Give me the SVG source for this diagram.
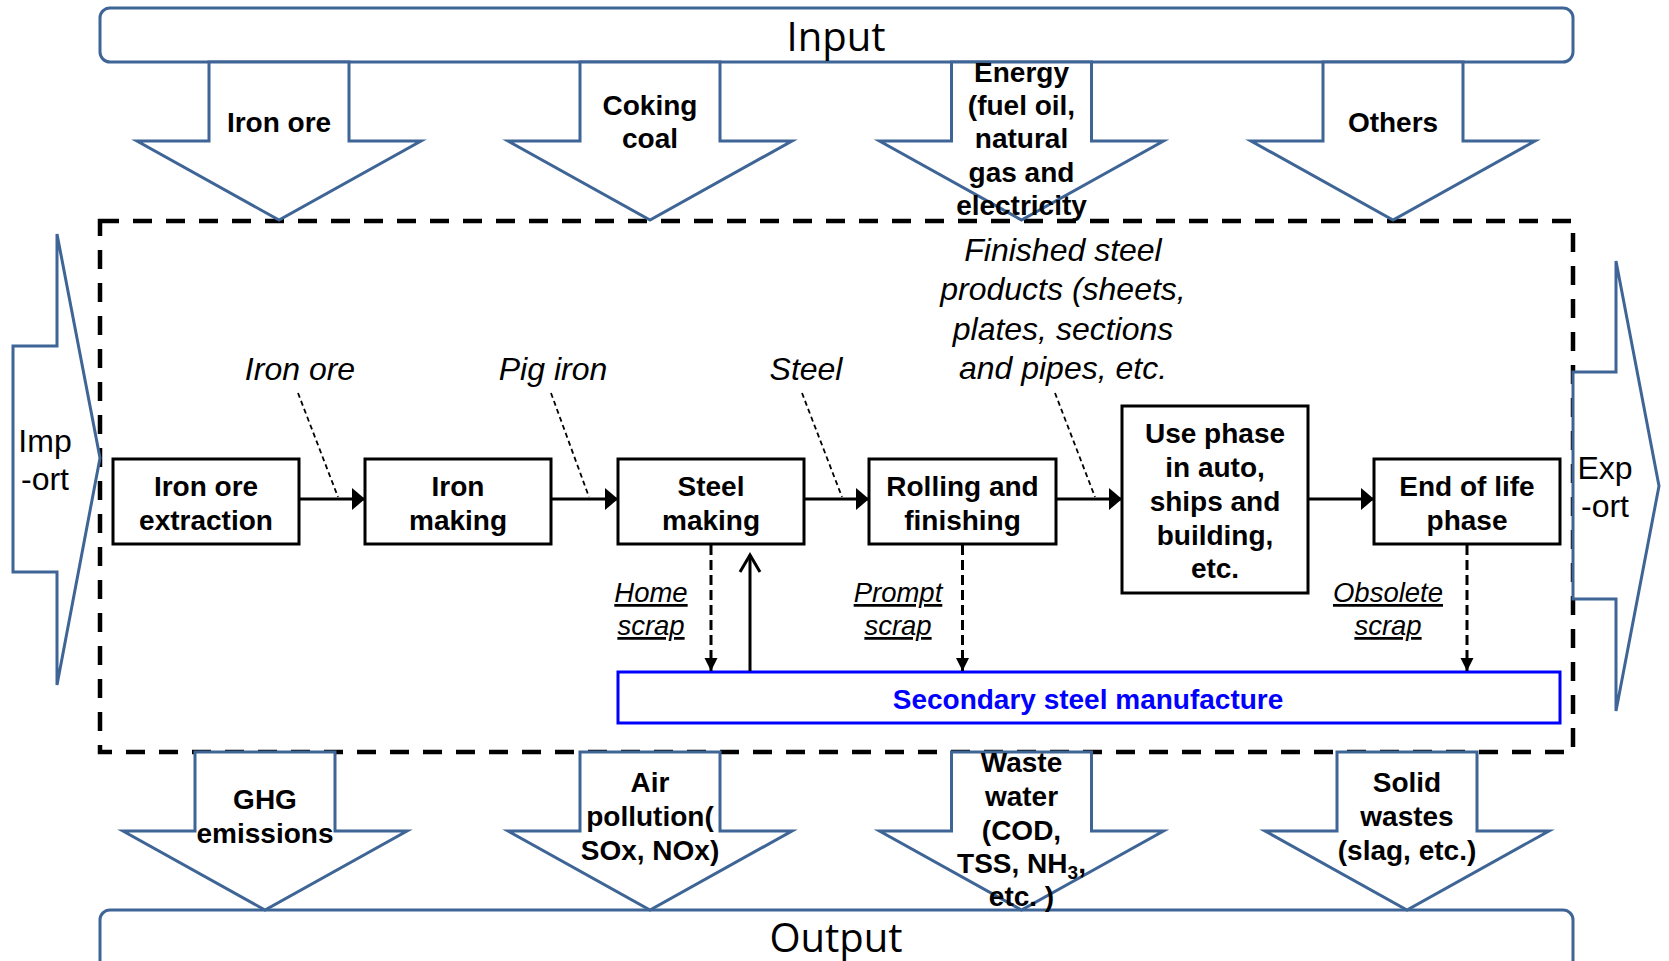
<svg xmlns="http://www.w3.org/2000/svg" width="1669" height="961" viewBox="0 0 1669 961">
<style>
.blk{fill:#fff;stroke:#3E6596;stroke-width:3;stroke-linejoin:miter}
.box{fill:#fff;stroke:#000;stroke-width:3}
.lbl{font-family:"Liberation Sans",Arial,sans-serif;font-weight:bold;font-size:28px;fill:#000;text-anchor:middle}
.it{font-family:"Liberation Sans",Arial,sans-serif;font-style:italic;font-size:32px;fill:#000;text-anchor:middle}
.sc{font-family:"Liberation Sans",Arial,sans-serif;font-style:italic;font-size:27.5px;fill:#000;text-anchor:middle;text-decoration:underline}
.ie{font-family:"Liberation Sans",Arial,sans-serif;font-size:32px;fill:#000;text-anchor:middle}
.big{font-family:"Open Sans","Liberation Sans",sans-serif;font-size:40px;fill:#000;text-anchor:middle}
.flow{stroke:#000;stroke-width:3;fill:none}
.lead{stroke:#000;stroke-width:1.8;stroke-dasharray:5 3.5;fill:none}
.scr{stroke:#000;stroke-width:3;stroke-dasharray:10 5;fill:none}
</style>
<defs>
<path id="darr" d="M-70,0 H70 V79 H142 L0,158 L-142,79 H-70 Z"/>
<marker id="ah" markerUnits="userSpaceOnUse" markerWidth="14" markerHeight="22" refX="13" refY="11" orient="auto" overflow="visible">
<path d="M0,0 L13,11 L0,22 Z" fill="#000"/>
</marker>
<marker id="ahs" markerUnits="userSpaceOnUse" markerWidth="14" markerHeight="13" refX="13" refY="6.5" orient="auto" overflow="visible">
<path d="M0,0 L13,6.5 L0,13 Z" fill="#000"/>
</marker>
<marker id="aho" markerUnits="userSpaceOnUse" markerWidth="18" markerHeight="22" refX="17" refY="10" orient="auto" overflow="visible">
<path d="M0,0 L17,10 L0,20" fill="none" stroke="#000" stroke-width="3"/>
</marker>
</defs>
<rect width="1669" height="961" fill="#fff"/>

<g id="system-boundary">
<rect x="100" y="221" width="1473" height="531" fill="none" stroke="#000" stroke-width="4.5" stroke-dasharray="19 14"/>
</g>

<g id="input">
<rect class="blk" x="100" y="8" width="1473" height="54" rx="10"/>
<text class="big" x="836" y="51">Input</text>
</g>
<g id="output">
<rect class="blk" x="100" y="910" width="1473" height="90" rx="10"/>
<text class="big" x="836" y="952">Output</text>
</g>

<g id="in-iron-ore">
<use href="#darr" class="blk" x="279" y="62"/>
<text class="lbl" x="279" y="132">Iron ore</text>
</g>
<g id="in-coking-coal">
<use href="#darr" class="blk" x="650" y="62"/>
<text class="lbl" x="650" y="115">Coking</text>
<text class="lbl" x="650" y="148">coal</text>
</g>
<g id="in-energy">
<use href="#darr" class="blk" x="1021.5" y="62"/>
<text class="lbl" x="1021.5" y="81.5">Energy</text>
<text class="lbl" x="1021.5" y="115">(fuel oil,</text>
<text class="lbl" x="1021.5" y="148">natural</text>
<text class="lbl" x="1021.5" y="181.5">gas and</text>
<text class="lbl" x="1021.5" y="215">electricity</text>
</g>
<g id="in-others">
<use href="#darr" class="blk" x="1393" y="62"/>
<text class="lbl" x="1393" y="132">Others</text>
</g>

<g id="out-ghg">
<use href="#darr" class="blk" x="265" y="752"/>
<text class="lbl" x="265" y="809">GHG</text>
<text class="lbl" x="265" y="843">emissions</text>
</g>
<g id="out-air">
<use href="#darr" class="blk" x="650" y="752"/>
<text class="lbl" x="650" y="792">Air</text>
<text class="lbl" x="650" y="826">pollution(</text>
<text class="lbl" x="650" y="860">SOx, NOx)</text>
</g>
<g id="out-water">
<use href="#darr" class="blk" x="1021.5" y="752"/>
<text class="lbl" x="1021.5" y="772">Waste</text>
<text class="lbl" x="1021.5" y="806">water</text>
<text class="lbl" x="1021.5" y="840">(COD,</text>
<text class="lbl" x="1021.5" y="873">TSS, NH<tspan font-size="19" dy="6">3</tspan><tspan dy="-6">,</tspan></text>
<text class="lbl" x="1021.5" y="906">etc. )</text>
</g>
<g id="out-solid">
<use href="#darr" class="blk" x="1407" y="752"/>
<text class="lbl" x="1407" y="792">Solid</text>
<text class="lbl" x="1407" y="826">wastes</text>
<text class="lbl" x="1407" y="860">(slag, etc.)</text>
</g>

<g id="import">
<polygon class="blk" points="13,346 57,346 57,234 100,458 57,685 57,572 13,572"/>
<text class="ie" x="45" y="452">Imp</text>
<text class="ie" x="45" y="490">-ort</text>
</g>
<g id="export">
<polygon class="blk" points="1573,372 1616,372 1616,261 1659,486 1616,711 1616,599 1573,599"/>
<text class="ie" x="1605" y="479">Exp</text>
<text class="ie" x="1605" y="517">-ort</text>
</g>

<g id="iron-ore-extraction">
<rect class="box" x="113" y="459" width="186" height="85"/>
<text class="lbl" x="206" y="496">Iron ore</text>
<text class="lbl" x="206" y="530">extraction</text>
</g>
<g id="iron-making">
<rect class="box" x="365" y="459" width="186" height="85"/>
<text class="lbl" x="458" y="496">Iron</text>
<text class="lbl" x="458" y="530">making</text>
</g>
<g id="steel-making">
<rect class="box" x="618" y="459" width="186" height="85"/>
<text class="lbl" x="711" y="496">Steel</text>
<text class="lbl" x="711" y="530">making</text>
</g>
<g id="rolling-finishing">
<rect class="box" x="869" y="459" width="187" height="85"/>
<text class="lbl" x="962.5" y="496">Rolling and</text>
<text class="lbl" x="962.5" y="530">finishing</text>
</g>
<g id="use-phase">
<rect class="box" x="1122" y="406" width="186" height="187"/>
<text class="lbl" x="1215" y="443">Use phase</text>
<text class="lbl" x="1215" y="477">in auto,</text>
<text class="lbl" x="1215" y="511">ships and</text>
<text class="lbl" x="1215" y="545">building,</text>
<text class="lbl" x="1215" y="578">etc.</text>
</g>
<g id="end-of-life">
<rect class="box" x="1374" y="459" width="186" height="85"/>
<text class="lbl" x="1467" y="496">End of life</text>
<text class="lbl" x="1467" y="530">phase</text>
</g>
<g id="secondary-steel">
<rect x="618" y="672" width="942" height="51" fill="#fff" stroke="#0000FF" stroke-width="3"/>
<text class="lbl" x="1088" y="709" fill="#0000FF" style="fill:#0000FF">Secondary steel manufacture</text>
</g>

<g id="connectors">
<line class="flow" x1="299" y1="499" x2="365" y2="499" marker-end="url(#ah)"/>
<line class="flow" x1="551" y1="499" x2="618" y2="499" marker-end="url(#ah)"/>
<line class="flow" x1="804" y1="499" x2="869" y2="499" marker-end="url(#ah)"/>
<line class="flow" x1="1056" y1="499" x2="1122" y2="499" marker-end="url(#ah)"/>
<line class="flow" x1="1308" y1="499" x2="1374" y2="499" marker-end="url(#ah)"/>
<line class="lead" x1="298" y1="393" x2="338" y2="497"/>
<line class="lead" x1="551" y1="393" x2="589" y2="497"/>
<line class="lead" x1="802" y1="393" x2="842" y2="497"/>
<line class="lead" x1="1055" y1="393" x2="1095" y2="497"/>
<line class="scr" x1="711" y1="545" x2="711" y2="671" marker-end="url(#ahs)"/>
<line class="scr" x1="962.5" y1="545" x2="962.5" y2="671" marker-end="url(#ahs)"/>
<line class="scr" x1="1467" y1="545" x2="1467" y2="671" marker-end="url(#ahs)"/>
<line class="flow" x1="750" y1="671" x2="750" y2="555" marker-end="url(#aho)"/>
</g>

<g id="flow-labels">
<text class="it" x="300" y="380">Iron ore</text>
<text class="it" x="553" y="380">Pig iron</text>
<text class="it" x="806" y="380">Steel</text>
<text class="it" x="1063" y="261">Finished steel</text>
<text class="it" x="1063" y="300">products (sheets,</text>
<text class="it" x="1063" y="340">plates, sections</text>
<text class="it" x="1063" y="379">and pipes, etc.</text>
<text class="sc" x="651" y="602">Home</text>
<text class="sc" x="651" y="635">scrap</text>
<text class="sc" x="898" y="602">Prompt</text>
<text class="sc" x="898" y="635">scrap</text>
<text class="sc" x="1388" y="602">Obsolete</text>
<text class="sc" x="1388" y="635">scrap</text>
</g>
</svg>
